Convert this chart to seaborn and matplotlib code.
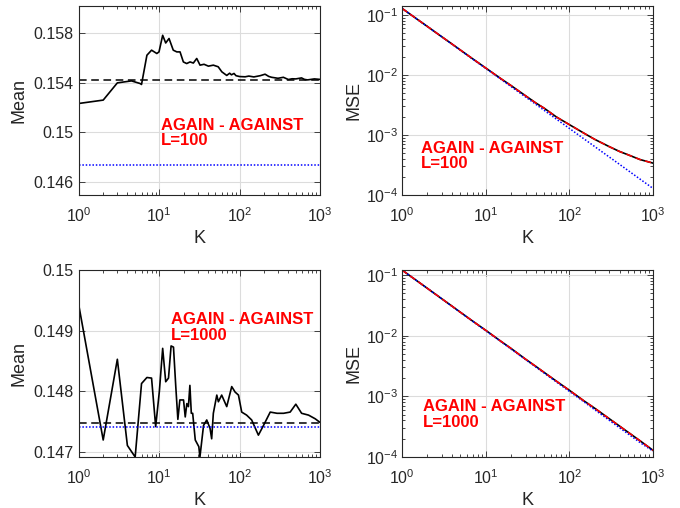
import matplotlib
matplotlib.use("Agg")
import seaborn as sns
import matplotlib.pyplot as plt
from matplotlib.ticker import FixedLocator, LogLocator, NullFormatter, FixedFormatter

# ---- L=100, running mean vs K
k_100 = [1, 2, 3, 4.5, 5.75, 6, 7, 8, 9.3, 9.9, 11, 12, 13.2, 14.9, 16.5, 18.1, 19.9,
         21.9, 24.1, 26.5, 29.2, 32.1, 36, 40.8, 47, 54, 60, 69, 75, 79, 85, 90, 100,
         117, 130, 150, 180, 207, 230, 250, 300, 350, 404, 450, 500, 589, 640, 700,
         850, 1000]
mean_100 = [0.15234, 0.15261, 0.1540, 0.15416, 0.15395, 0.15387, 0.15623, 0.15664,
            0.15637, 0.15650, 0.15784, 0.15722, 0.15758, 0.15664, 0.15650, 0.15650,
            0.15569, 0.15556, 0.15569, 0.15560, 0.15597, 0.15543, 0.15550, 0.15535,
            0.15543, 0.15530, 0.15489, 0.15460, 0.15478, 0.15465, 0.15476, 0.15458,
            0.15451, 0.15449, 0.15455, 0.15448, 0.15458, 0.15470, 0.15452, 0.15445,
            0.15437, 0.15445, 0.15427, 0.15433, 0.15432, 0.15440, 0.15428, 0.15424,
            0.15432, 0.15428]
ref_100 = 0.15422    # dashed black
true_100 = 0.1474    # dotted blue

# ---- L=1000, running mean vs K
k_1000 = [1, 2, 3, 4, 5, 6, 7, 8, 9, 10, 11, 12, 13, 14, 15, 16, 17, 18, 20, 21, 22,
          23, 24, 25, 26, 28, 31, 32, 35.5, 38.9, 42.8, 44.8, 47, 51.9, 54.3, 59.7,
          69, 79.6, 87.7, 96.6, 106, 122, 141, 171, 198, 240, 292, 352, 425, 500,
          590, 720, 870, 1000]
mean_1000 = [0.14940, 0.14720, 0.14853, 0.14711, 0.14692, 0.14813, 0.14823, 0.14822,
             0.14742, 0.14800, 0.14871, 0.14816, 0.14822, 0.14875, 0.14873, 0.14809,
             0.14754, 0.14786, 0.14786, 0.14758, 0.14780, 0.14775, 0.14810, 0.14764,
             0.14764, 0.14720, 0.14709, 0.14692, 0.14744, 0.14753, 0.14739, 0.14722,
             0.14764, 0.14794, 0.14783, 0.14794, 0.14775, 0.14808, 0.14799, 0.14794,
             0.14766, 0.14761, 0.14753, 0.14728, 0.14744, 0.14766, 0.14764, 0.14764,
             0.14766, 0.14779, 0.14764, 0.14761, 0.14755, 0.14749]
ref_1000 = 0.14748
true_1000 = 0.14742

# ---- MSE vs K
k_mse = [1, 1.5, 2, 3, 4, 5, 7, 10, 15, 20, 30, 40, 50, 70, 100, 150, 200, 300, 400,
         500, 700, 1000]
mse_100 = [0.129, 0.086, 0.0647, 0.0432, 0.0325, 0.026, 0.0186, 0.0131, 0.0088,
           0.0067, 0.0045, 0.0034, 0.0028, 0.0020, 0.00149, 0.00107, 0.00085,
           0.00064, 0.00053, 0.00047, 0.00039, 0.00034]
mse_100_theory = [0.129, 0.086, 0.0645, 0.043, 0.0323, 0.0258, 0.0184, 0.0129,
                  0.0086, 0.00645, 0.0043, 0.00323, 0.00258, 0.00184, 0.00129,
                  0.00086, 0.000645, 0.00043, 0.000323, 0.000258, 0.000184, 0.000129]
mse_1000 = [0.121, 0.0808, 0.0607, 0.0405, 0.0304, 0.0243, 0.0174, 0.0123, 0.0082,
            0.0062, 0.0041, 0.0031, 0.00248, 0.00178, 0.00126, 0.00084, 0.00064,
            0.000428, 0.000322, 0.000258, 0.000185, 0.000129]
mse_1000_theory = [0.121, 0.0806, 0.0605, 0.0403, 0.0302, 0.0242, 0.0173, 0.0121,
                   0.0081, 0.00605, 0.00403, 0.00302, 0.00242, 0.00173, 0.00121,
                   0.00081, 0.000605, 0.000403, 0.000302, 0.000242, 0.000173, 0.000125]

label = "AGAIN - AGAINST\nL={}"

sns.set_style("ticks")
plt.rcParams["font.family"] = ["Liberation Sans", "DejaVu Sans"]
plt.rcParams["mathtext.fontset"] = "custom"
plt.rcParams["mathtext.rm"] = "Liberation Sans"
plt.rcParams["mathtext.it"] = "Liberation Sans:italic"
ink = "#262626"

fig = plt.figure(figsize=(6.8, 5.08), dpi=100)
ax_tl = fig.add_axes([0.1162, 0.6161, 0.3544, 0.372])
ax_tr = fig.add_axes([0.5912, 0.6161, 0.3691, 0.372])
ax_bl = fig.add_axes([0.1162, 0.1004, 0.3544, 0.368])
ax_br = fig.add_axes([0.5912, 0.1004, 0.3691, 0.368])


def style(ax):
    ax.set_xscale("log")
    ax.set_xlim(1, 1000)
    ax.xaxis.set_major_locator(LogLocator(base=10, numticks=10))
    ax.xaxis.set_minor_locator(LogLocator(base=10, subs=range(2, 10), numticks=20))
    ax.xaxis.set_minor_formatter(NullFormatter())
    ax.grid(True, which="major", color="#dcdcdc", linewidth=0.8)
    ax.set_axisbelow(True)
    ax.tick_params(which="both", direction="in", top=True, right=True,
                   colors=ink, labelsize=11.5, width=0.6)
    ax.tick_params(which="major", length=4)
    ax.tick_params(which="minor", length=2)
    ax.tick_params(axis="x", pad=8)
    for s in ax.spines.values():
        s.set_color(ink)
        s.set_linewidth(0.8)
    ax.set_xlabel("K", fontsize=13, color=ink, labelpad=4)


def mean_panel(ax, k, m, ref, true, ylim, yticks, ylabels, txt_pos, L):
    sns.lineplot(x=k, y=m, ax=ax, color="black", linewidth=1.2, estimator=None, sort=False)
    span = [k[0], k[-1]]
    sns.lineplot(x=span, y=[ref, ref], ax=ax, color="black", linewidth=1.1,
                 linestyle=(0, (5, 3)), estimator=None)
    sns.lineplot(x=span, y=[true, true], ax=ax, color="blue", linewidth=1.1,
                 linestyle=(0, (1, 1.2)), estimator=None)
    style(ax)
    ax.set_ylim(*ylim)
    ax.yaxis.set_major_locator(FixedLocator(yticks))
    ax.yaxis.set_major_formatter(FixedFormatter(ylabels))
    ax.tick_params(axis="y", pad=4)
    ax.set_ylabel("Mean", fontsize=13, color=ink, labelpad=4)
    ax.text(txt_pos[0], txt_pos[1], label.format(L), color="red", fontsize=12,
            fontweight="bold", va="center", ha="left", linespacing=1.05)


def mse_panel(ax, k, m, th, ylim, txt_pos, L):
    sns.lineplot(x=k, y=m, ax=ax, color="black", linewidth=1.2, estimator=None)
    sns.lineplot(x=k, y=th, ax=ax, color="blue", linewidth=1.1,
                 linestyle=(0, (1, 1.2)), estimator=None)
    sns.lineplot(x=k, y=m, ax=ax, color="red", linewidth=1.1,
                 linestyle=(0, (4, 2.5)), estimator=None)
    style(ax)
    ax.set_yscale("log")
    ax.set_ylim(*ylim)
    ax.yaxis.set_major_locator(LogLocator(base=10, numticks=10))
    ax.yaxis.set_minor_locator(LogLocator(base=10, subs=range(2, 10), numticks=20))
    ax.yaxis.set_minor_formatter(NullFormatter())
    ax.tick_params(which="both", direction="in", top=True, right=True)
    ax.tick_params(axis="y", pad=3)
    ax.set_ylabel("MSE", fontsize=13, color=ink, labelpad=2)
    ax.text(txt_pos[0], txt_pos[1], label.format(L), color="red", fontsize=12,
            fontweight="bold", va="center", ha="left", linespacing=1.05)


mean_panel(ax_tl, k_100, mean_100, ref_100, true_100, (0.14495, 0.1602),
           [0.146, 0.15, 0.154, 0.158], ["0.146", "0.15", "0.154", "0.158"],
           (10.5, 0.14995), 100)
mean_panel(ax_bl, k_1000, mean_1000, ref_1000, true_1000, (0.14692, 0.15),
           [0.147, 0.148, 0.149, 0.15], ["0.147", "0.148", "0.149", "0.15"],
           (13.9, 0.14905), 1000)
mse_panel(ax_tr, k_mse, mse_100, mse_100_theory, (1e-4, 0.141), (1.69, 4.5e-4), 100)
mse_panel(ax_br, k_mse, mse_1000, mse_1000_theory, (1e-4, 0.121), (1.77, 5.07e-4), 1000)

fig.savefig("out.png", dpi=100)
